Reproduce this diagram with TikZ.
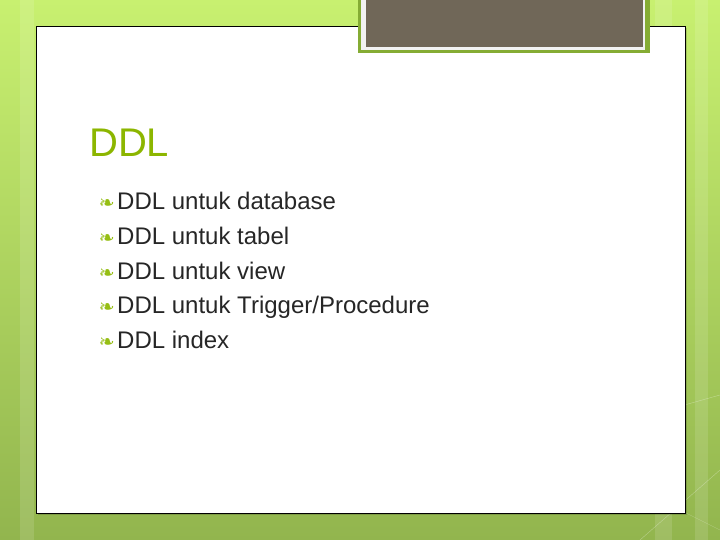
\documentclass[tikz,border=0pt]{standalone}
\usepackage{fontspec}
\setmainfont{Liberation Sans}
\newfontfamily\symfont{DejaVu Sans}
\usetikzlibrary{calc}
\usetikzlibrary{positioning}
\definecolor{bgtop}{RGB}{200,240,112}
\definecolor{bgbottom}{RGB}{146,181,78}
\definecolor{titlegreen}{RGB}{140,182,0}
\definecolor{bulletgreen}{RGB}{150,190,20}
\definecolor{tabbrown}{RGB}{112,103,88}
\definecolor{tabgreen}{RGB}{133,172,52}
\definecolor{textgrey}{RGB}{38,38,38}
\tikzset{
    itemtext/.style={anchor=base west,inner sep=0pt,text=textgrey,font=\fontsize{24}{28}\selectfont},
    bulletsym/.style={anchor=base east,inner sep=0pt,text=bulletgreen,font=\symfont\fontsize{19}{20}\selectfont},
    stripe/.style={white,opacity=0.12}
}
\begin{document}
\begin{tikzpicture}[x=1pt,y=1pt]
                    \useasboundingbox (0,0) rectangle (720,540);
                    \shade[top color=bgtop,bottom color=bgbottom] (0,0) rectangle (720,540);
                    \fill[stripe] (20,0) rectangle (34,540);
                    \fill[stripe] (655,0) rectangle (672,540);
                    \fill[stripe] (695,0) rectangle (708,540);
                    \draw[white,opacity=0.35] (560,540-440) -- (720,540-395);
                    \draw[white,opacity=0.35] (640,540-540) -- (720,540-470);
                    \draw[white,opacity=0.25] (600,540-470) -- (720,540-530);

                    \coordinate (P1) at (36,540-513);
                    \coordinate (P2) at (685,540-26);
                    \fill[black,opacity=0.15] ($(P1)+(2,-2)$) rectangle ($(P2)+(2,-2)$);
                    \draw[black,fill=white,line width=0.9pt] (P1) rectangle (P2);

                    \coordinate (T1) at (358,540-53);
                    \coordinate (T2) at (650,545);
                    \fill[tabgreen] (T1) rectangle (T2);
                    \fill[white!95!black] ($(T1)+(3,3)$) rectangle ($(T2)+(-5,0)$);
                    \fill[tabbrown] ($(T1)+(8,5.5)$) rectangle ($(T2)+(-7,0)$);

                    \node[anchor=base west,inner sep=0pt,text=titlegreen,font=\fontsize{40}{44}\selectfont] (title) at (89,540-157) {DDL};

                    \node[itemtext] (item1) at (117,540-210) {DDL untuk database};
                    \node[itemtext] (item2) at (117,540-244.6) {DDL untuk tabel};
                    \node[itemtext] (item3) at (117,540-279.2) {DDL untuk view};
                    \node[itemtext] (item4) at (117,540-313.8) {DDL untuk Trigger/Procedure};
                    \node[itemtext] (item5) at (117,540-348.4) {DDL index};

                    \node[bulletsym,left=2pt of item1.base west,anchor=base east] (b1) {❧};
                    \node[bulletsym,left=2pt of item2.base west,anchor=base east] (b2) {❧};
                    \node[bulletsym,left=2pt of item3.base west,anchor=base east] (b3) {❧};
                    \node[bulletsym,left=2pt of item4.base west,anchor=base east] (b4) {❧};
                    \node[bulletsym,left=2pt of item5.base west,anchor=base east] (b5) {❧};
                \end{tikzpicture}
\end{document}
